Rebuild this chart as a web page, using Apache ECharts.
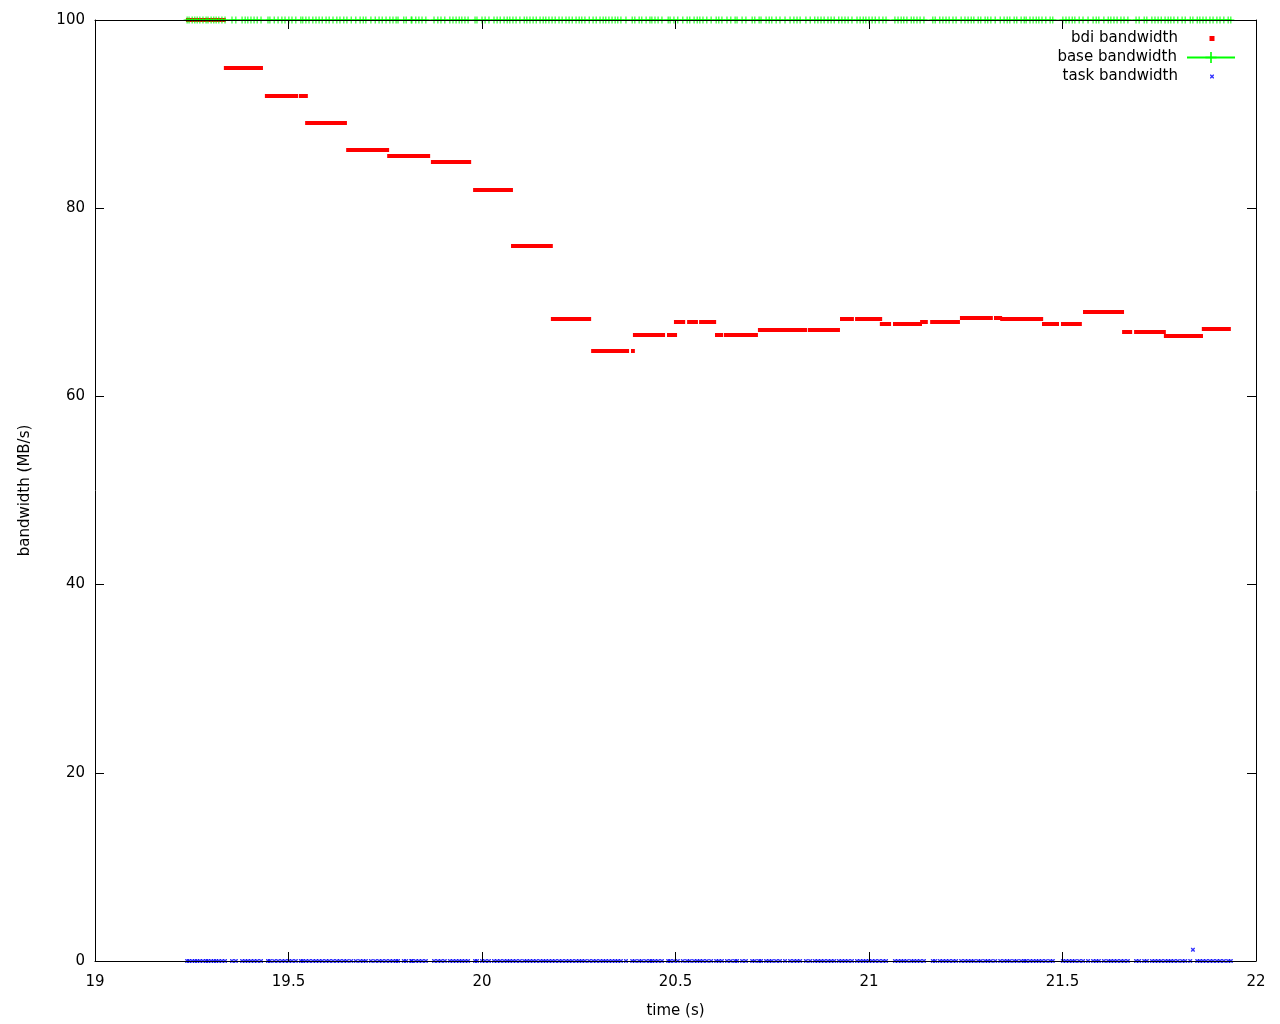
<!DOCTYPE html>
<html><head><meta charset="utf-8">
<script src="https://cdn.jsdelivr.net/npm/echarts@6/dist/echarts.min.js"></script>
<style>html,body{margin:0;padding:0;background:#fff}#c{width:1280px;height:1024px}</style>
</head><body><div id="c"></div>
<script>
// bdi bandwidth: runs of samples with the same value (start time, end time, MB/s)
const bdiStart = [19.235,19.333,19.439,19.527,19.543,19.649,19.755,19.868,19.977,20.075,20.178,20.282,20.385,20.390,20.478,20.496,20.530,20.561,20.602,20.625,20.713,20.842,20.925,20.964,21.028,21.062,21.132,21.158,21.235,21.323,21.339,21.447,21.496,21.553,21.654,21.685,21.762,21.860];
const bdiEnd   = [19.338,19.434,19.525,19.550,19.651,19.760,19.866,19.972,20.080,20.183,20.282,20.380,20.395,20.473,20.504,20.525,20.558,20.605,20.623,20.713,20.840,20.925,20.961,21.034,21.057,21.137,21.152,21.235,21.320,21.344,21.450,21.491,21.550,21.659,21.680,21.767,21.863,21.935];
const bdiValue = [100,94.9,91.9,91.9,89.1,86.2,85.6,84.9,82.0,76.0,68.3,64.8,64.8,66.6,66.6,67.9,67.9,67.9,66.6,66.6,67.1,67.1,68.2,68.2,67.7,67.7,67.9,67.9,68.4,68.4,68.2,67.7,67.7,69.0,66.9,66.9,66.4,67.2];

// sample times (s) of base / task bandwidth records
const sampleTimes = [
19.238,19.243,19.251,19.258,19.264,19.271,19.279,19.287,19.292,19.300,19.307,19.313,19.320,19.328,19.336,
19.354,19.364,19.380,19.388,19.395,19.403,19.411,19.419,19.429,19.447,19.452,19.463,19.473,19.483,19.491,
19.501,19.509,19.519,19.532,19.537,19.545,19.553,19.563,19.571,19.579,19.587,19.597,19.605,19.615,19.625,
19.633,19.643,19.651,19.662,19.674,19.685,19.693,19.700,19.713,19.724,19.734,19.742,19.752,19.762,19.770,
19.778,19.783,19.798,19.804,19.817,19.819,19.829,19.837,19.845,19.855,19.876,19.886,19.894,19.904,19.917,
19.925,19.933,19.941,19.948,19.956,19.964,19.982,19.987,20.000,20.008,20.018,20.031,20.039,20.047,20.057,
20.065,20.072,20.080,20.088,20.098,20.109,20.116,20.124,20.132,20.140,20.150,20.158,20.165,20.173,20.181,
20.189,20.199,20.207,20.217,20.225,20.233,20.243,20.251,20.258,20.266,20.277,20.287,20.295,20.305,20.313,
20.320,20.328,20.336,20.344,20.351,20.359,20.372,20.388,20.395,20.406,20.413,20.424,20.434,20.439,20.447,
20.455,20.465,20.481,20.486,20.496,20.506,20.519,20.530,20.537,20.548,20.556,20.563,20.571,20.581,20.592,
20.605,20.612,20.620,20.633,20.643,20.654,20.659,20.672,20.682,20.698,20.705,20.716,20.721,20.734,20.742,
20.749,20.760,20.770,20.783,20.796,20.806,20.814,20.822,20.837,20.848,20.860,20.868,20.876,20.884,20.894,
20.902,20.910,20.922,20.930,20.938,20.946,20.956,20.969,20.977,20.985,20.992,21.000,21.008,21.016,21.026,
21.036,21.044,21.067,21.075,21.083,21.090,21.098,21.109,21.116,21.124,21.132,21.142,21.165,21.171,21.183,
21.191,21.199,21.207,21.217,21.225,21.238,21.248,21.256,21.264,21.271,21.282,21.289,21.300,21.307,21.315,
21.326,21.339,21.349,21.357,21.364,21.375,21.382,21.393,21.401,21.406,21.416,21.424,21.432,21.439,21.447,
21.457,21.468,21.475,21.501,21.509,21.517,21.525,21.532,21.543,21.553,21.566,21.579,21.587,21.594,21.607,
21.618,21.625,21.633,21.641,21.651,21.659,21.669,21.690,21.698,21.711,21.718,21.731,21.739,21.747,21.755,
21.765,21.773,21.780,21.788,21.798,21.809,21.817,21.830,21.837,21.848,21.855,21.863,21.871,21.881,21.889,
21.899,21.907,21.917,21.928,21.935];
const baseLevel = 100;        // base bandwidth, MB/s
const taskLevel = 0;          // task bandwidth, MB/s
const taskSpikeTimes = [21.837];
const taskSpikeValues = [1.2];

const xTickMin = 19, xTickMax = 22, xTickStep = 0.5;
const yTickMin = 0, yTickMax = 100, yTickStep = 20;

const FONT = 'DejaVu Sans';
const plusPath = 'path://M3,0H4V3H7V4H4V7H3V4H0V3H3Z';
const crossPath = 'path://M0,0H2L4,2L6,0H8V2L6,4L8,6V8H6L4,6L2,8H0V6L2,4L0,2Z';
// legend icons: tiny invisible corner specks keep the full 48-wide box, mark centred
const legendSquare = 'path://M0,0L0.01,0L0,0.01Z M21.5,0H26.5V5H21.5Z M48,5L47.99,5L48,4.99Z';
const legendCross = 'path://M0,0L0.01,0L0,0.01Z M22,0H23L24,1L25,0H26V1L25,2L26,3V4H25L24,3L23,4H22V3L23,2L22,1Z M48,4L47.99,4L48,3.99Z';

const chart = echarts.init(document.getElementById('c'), null, {renderer:'canvas'});

const bdiData = bdiStart.map((s, i) => ({coords: [[s, bdiValue[i]], [bdiEnd[i], bdiValue[i]]]}));
const baseData = sampleTimes.map(t => [t, baseLevel]);
const taskData = sampleTimes.map(t => {
  const k = taskSpikeTimes.indexOf(t);
  return [t, k >= 0 ? taskSpikeValues[k] : taskLevel];
});

const txt = {fontFamily: FONT, fontSize: 15, color: '#000'};
function xAx(pos, labels) {
  return {type:'value', min:xTickMin, max:xTickMax, interval:xTickStep, position:pos, z:10,
    name: labels ? 'time (s)' : '', nameLocation:'middle', nameGap:43, nameTextStyle: txt,
    axisLine:{show:true, onZero:false, lineStyle:{color:'#000', width:1}},
    axisTick:{show:true, inside:true, length:9, lineStyle:{color:'#000', width:1}},
    axisLabel:{show:labels, margin:14, ...txt},
    splitLine:{show:false}};
}
function yAx(pos, labels) {
  return {type:'value', min:yTickMin, max:yTickMax, interval:yTickStep, position:pos, z:10,
    name: labels ? 'bandwidth (MB/s)' : '', nameLocation:'middle', nameGap:62, nameRotate:90, nameTextStyle: txt,
    axisLine:{show:true, onZero:false, lineStyle:{color:'#000', width:1}},
    axisTick:{show:true, inside:true, length:9, lineStyle:{color:'#000', width:1}},
    axisLabel:{show:labels, margin:10, ...txt},
    splitLine:{show:false}};
}
const legTxt = {...txt, lineHeight:19, padding:[0,5,0,0]};
const legBase = {orient:'vertical', align:'right', right:39, itemWidth:48, selectedMode:false, padding:5, textStyle: legTxt};

chart.setOption({
  animation:false,
  backgroundColor:'#fff',
  grid:{left:95, right:24, top:20, bottom:61, containLabel:false, show:false},
  xAxis:[xAx('bottom', true), xAx('top', false)],
  yAxis:[yAx('left', true), yAx('right', false)],
  legend:[
    {...legBase, top:24, itemHeight:5, itemStyle:{color:'#ff0000', borderWidth:0}, lineStyle:{width:0},
     data:[{name:'bdi bandwidth', icon:legendSquare, itemStyle:{color:'#ff0000', borderWidth:0, borderColor:'transparent'}}]},
    {...legBase, top:43, itemHeight:14, data:['base bandwidth']},
    {...legBase, top:62, itemHeight:4, data:[{name:'task bandwidth', icon:legendCross}]}
  ],
  series:[
    {type:'lines', name:'bdi bandwidth', coordinateSystem:'cartesian2d', xAxisIndex:0, yAxisIndex:0,
     polyline:false, data:bdiData, silent:true, z:2,
     lineStyle:{color:'#ff0000', width:4, opacity:1, cap:'butt'}, itemStyle:{color:'#ff0000'}},
    {type:'line', name:'base bandwidth', xAxisIndex:0, yAxisIndex:0, data:baseData, z:3, clip:false,
     symbol:plusPath, symbolSize:7, showAllSymbol:true, silent:true,
     lineStyle:{color:'#00ff00', width:1}, itemStyle:{color:'#00ff00'}},
    {type:'scatter', name:'task bandwidth', xAxisIndex:0, yAxisIndex:0, data:taskData, z:4, clip:false,
     symbol:crossPath, symbolSize:4, silent:true, itemStyle:{color:'#0000ff'}}
  ]
});
</script>
</body></html>
